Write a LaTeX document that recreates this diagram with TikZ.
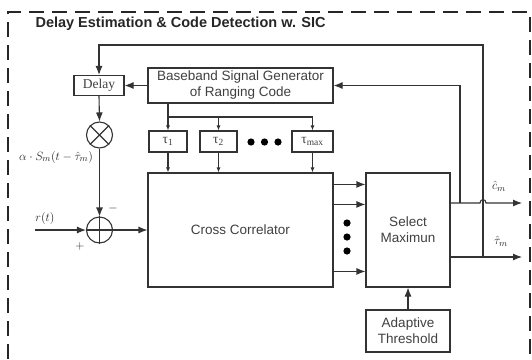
\documentclass[tikz,border=0pt]{standalone}
\usepackage{fontspec}
\setmainfont{Liberation Sans}
\newfontfamily\timesfont{Liberation Serif}
\usetikzlibrary{arrows.meta}
\definecolor{linegray}{gray}{0.2}
\definecolor{textgray}{gray}{0.25}
\tikzset{
	blk/.style={draw=linegray, line width=1.1pt, inner sep=0pt, align=center, fill=white, text=textgray, font=\fontsize{13.5}{16}\selectfont},
	serifblk/.style={blk, font=\timesfont\fontsize{13.5}{16}\selectfont},
	sumnode/.style={draw=linegray, line width=1.1pt, circle, minimum size=26pt, inner sep=0pt},
	wire/.style={draw=linegray, line width=1.1pt},
	bigarr/.style={wire, -{Latex[length=9pt,width=7pt]}},
	smallarr/.style={wire, -{Latex[length=5pt,width=4pt]}},
	lbl/.style={text=black!85, font=\fontsize{12.5}{15}\selectfont},
}

\begin{document}
\begin{tikzpicture}[x=1pt, y=-1pt]
			%%%%% START %%%%%
			\useasboundingbox (0,0) rectangle (532,359);
			\draw[black!85, line width=2pt, dash pattern=on 15pt off 8pt] (8,359) -- (8,12) -- (530,12) -- (530,359);
			\node[anchor=west, text=black!85, font=\bfseries\fontsize{14.5}{17}\selectfont] (title) at (32,24) {Delay Estimation \& Code Detection w. SIC};
			
			\node[serifblk, minimum width=50pt, minimum height=20pt] (delay) at (99,85.5) {Delay};
			\node[blk, minimum width=185pt, minimum height=35pt] (gen) at (240.5,85.5) {Baseband Signal Generator\\of Ranging Code};
			
			\node[serifblk, minimum width=38pt, minimum height=21pt] (tau1) at (168,141.5) {τ\textsubscript{1}};
			\node[serifblk, minimum width=37pt, minimum height=21pt] (tau2) at (218.5,141.5) {τ\textsubscript{2}};
			\node[serifblk, minimum width=41pt, minimum height=21pt] (taumax) at (312.5,141.5) {τ\textsubscript{max}};
			\foreach \xx in {251,264.5,278} \fill[black] (\xx,142) circle[radius=3.6pt];
			
			\node[blk, minimum width=185pt, minimum height=114pt] (corr) at (240.5,230) {Cross Correlator};
			\node[blk, minimum width=84pt, minimum height=114pt] (selmax) at (408,230) {Select\\Maximun};
			\node[blk, minimum width=84pt, minimum height=42pt] (thr) at (408,331) {Adaptive\\Threshold};
			\foreach \yy in {223,237,251} \fill[black] (347,\yy) circle[radius=3.6pt];
			
			\node[sumnode] (mult) at (99.5,135) {};
			\draw[wire] (mult.north west) -- (mult.south east);
			\draw[wire] (mult.north east) -- (mult.south west);
			\node[sumnode] (adder) at (99.5,230) {};
			\draw[wire] (adder.north) -- (adder.south);
			\draw[wire] (adder.west) -- (adder.east);
			
			\node[lbl] (scaled) at (56,157) {$\alpha\cdot S_m(t-\hat{\tau}_m)$};
			\node[lbl] (rlbl) at (45,218) {$r(t)$};
			\node[lbl] (plus) at (80,246) {$+$};
			\node[lbl] (minus) at (113,208) {$-$};
			\node[lbl] (clbl) at (499,186) {$\hat{c}_m$};
			\node[lbl] (tlbl) at (501,241) {$\hat{\tau}_m$};
			
			\coordinate (rin) at (35,230);
			\coordinate (split) at (168,117);
			\coordinate (tapC) at (460,203);
			\coordinate (tapT) at (483,257);
			\coordinate (topfb) at (483,45);
			\coordinate (cout) at (522,203);
			\coordinate (tout) at (522,257);
			
			% feedback paths
			\draw[bigarr] (tapT) -- (topfb) -| (delay.north);
			\draw[bigarr] (tapC) |- (gen.east);
			\draw[bigarr] (gen.west) -- (delay.east);
			\draw[bigarr] (delay.south) -- (mult.north);
			\draw[bigarr] (mult.south) -- (adder.north);
			\draw[bigarr] (rin) -- (adder.west);
			\draw[bigarr] (adder.east) -- (corr.west);
			
			% code delays
			\draw[smallarr] (tau1 |- gen.south) -- (tau1.north);
			\draw[smallarr] (split) -| (tau2.north);
			\draw[smallarr] (split) -| (taumax.north);
			\foreach \t in {tau1,tau2,taumax} \draw[smallarr] (\t.south) -- (\t.south |- corr.north);
			\foreach \dy in {12,32,99} \draw[bigarr] ([yshift=-\dy pt]corr.north east) -- ([yshift=-\dy pt]selmax.north west);
			
			% outputs
			\draw[bigarr] (selmax.east |- tapC) -- (480,203) .. controls (480,198.5) and (486,198.5) .. (486,203) -- (cout);
			\draw[bigarr] (selmax.east |- tout) -- (tout);
			\draw[bigarr] (thr.north) -- (selmax.south);
			%%%%% END %%%%%
\end{tikzpicture}
\end{document}
